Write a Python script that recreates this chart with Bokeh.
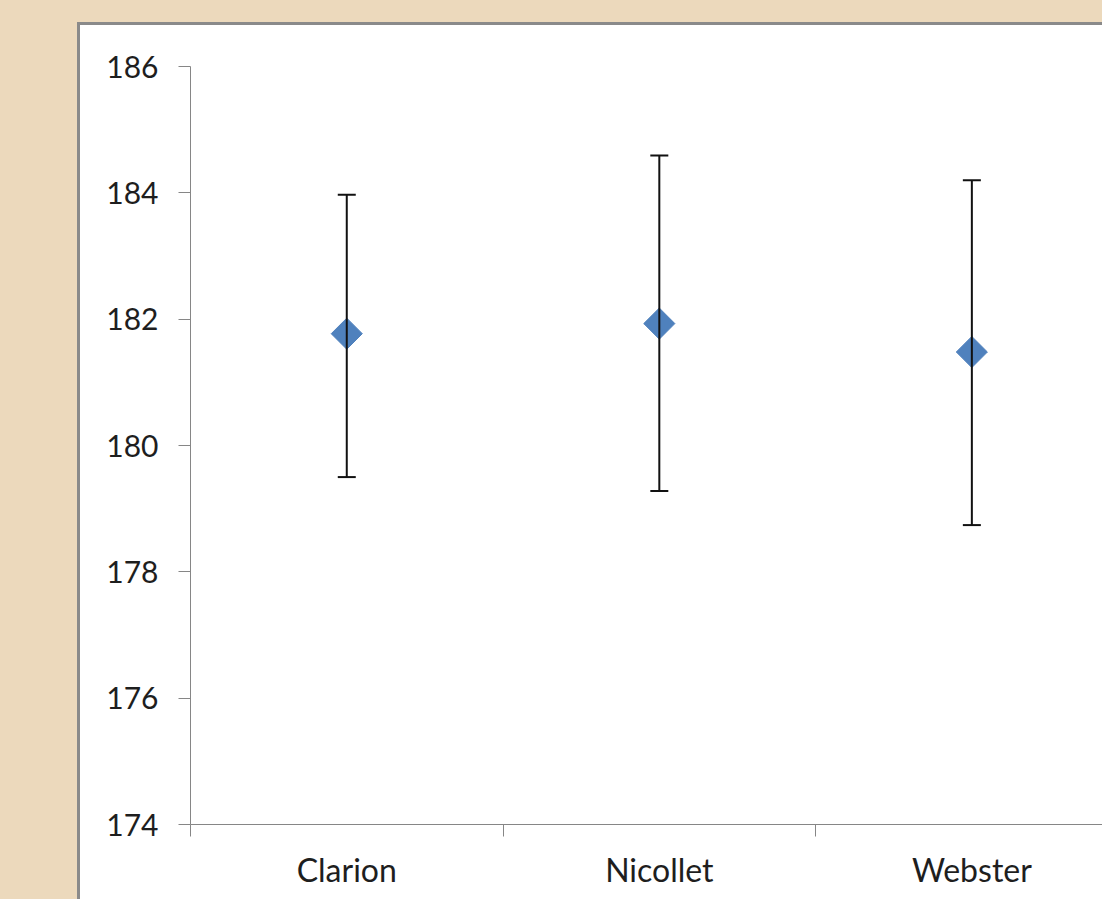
from bokeh.plotting import figure
from bokeh.layouts import column
from bokeh.models import (ColumnDataSource, Range1d, FixedTicker, Whisker,
                          TeeHead)
from bokeh.embed import file_html
from bokeh.resources import INLINE

# ---- data ----
categories = ["Clarion", "Nicollet", "Webster"]
means = [181.77, 181.93, 181.48]
lower = [179.50, 179.28, 178.74]
upper = [183.97, 184.59, 184.20]
y_ticks = [174, 176, 178, 180, 182, 184, 186]

xpos = [i + 0.5 for i in range(len(categories))]
src = ColumnDataSource(dict(x=xpos, mean=means, lower=lower, upper=upper,
                            cat=categories))

PAGE_W, PAGE_H = 1102, 899
OFF_L, OFF_T = 77, 22     # position of the grey panel border
BW = 3                    # grey border width
FW = PAGE_W - OFF_L - BW
FH = PAGE_H - OFF_T - BW

fig = figure(width=FW, height=FH, output_backend="svg", toolbar_location=None,
             x_range=Range1d(0, 2.918), y_range=Range1d(174, 186),
             min_border_left=110, min_border_top=41, min_border_bottom=75,
             min_border_right=0, styles={"background-color": "white"})
fig.border_fill_color = "white"
fig.background_fill_color = "white"
fig.outline_line_color = None
fig.grid.visible = False

# error bars
wh = Whisker(base="x", lower="lower", upper="upper", source=src,
             line_color="#111111", line_width=2, level="glyph",
             upper_head=TeeHead(size=18, line_color="#111111", line_width=2),
             lower_head=TeeHead(size=18, line_color="#111111", line_width=2))
fig.add_layout(wh)

# diamond markers
fig.scatter("x", "mean", source=src, marker="square", angle=0.785398,
            size=22, fill_color="#4F81BD", line_color="#4F81BD")

axis_col = "#868686"
text_col = "#1E1E1E"

# y axis
ya = fig.yaxis[0]
ya.ticker = FixedTicker(ticks=y_ticks, minor_ticks=[])
ya.axis_line_color = axis_col
ya.major_tick_line_color = axis_col
ya.major_tick_out = 12
ya.major_tick_in = 0
ya.minor_tick_line_color = None
ya.major_label_standoff = 20
ya.major_label_text_font = "Lato"
ya.major_label_text_font_size = "30px"
ya.major_label_text_color = text_col

# x axis: ticks at category boundaries, labels at centres
xa = fig.xaxis[0]
xa.ticker = FixedTicker(ticks=xpos,
                        minor_ticks=list(range(len(categories) + 1)))
xa.major_label_overrides = {x: c for x, c in zip(xpos, categories)}
xa.axis_line_color = axis_col
xa.major_tick_line_color = None
xa.minor_tick_line_color = axis_col
xa.minor_tick_out = 12
xa.minor_tick_in = 0
xa.major_tick_out = 12
xa.major_tick_in = 0
xa.major_label_standoff = 13
xa.major_label_text_font = "Lato"
xa.major_label_text_font_size = "32px"
xa.major_label_text_color = text_col

fig.margin = (BW, 0, 0, BW)
panel = column(fig, margin=(OFF_T, 0, 0, OFF_L),
               styles={"background-color": "#8A8A8A"})
p = column(panel, width=PAGE_W, height=PAGE_H,
           styles={"background-color": "#ECD9BC"})

open("out.html", "w").write(file_html(p, INLINE))
